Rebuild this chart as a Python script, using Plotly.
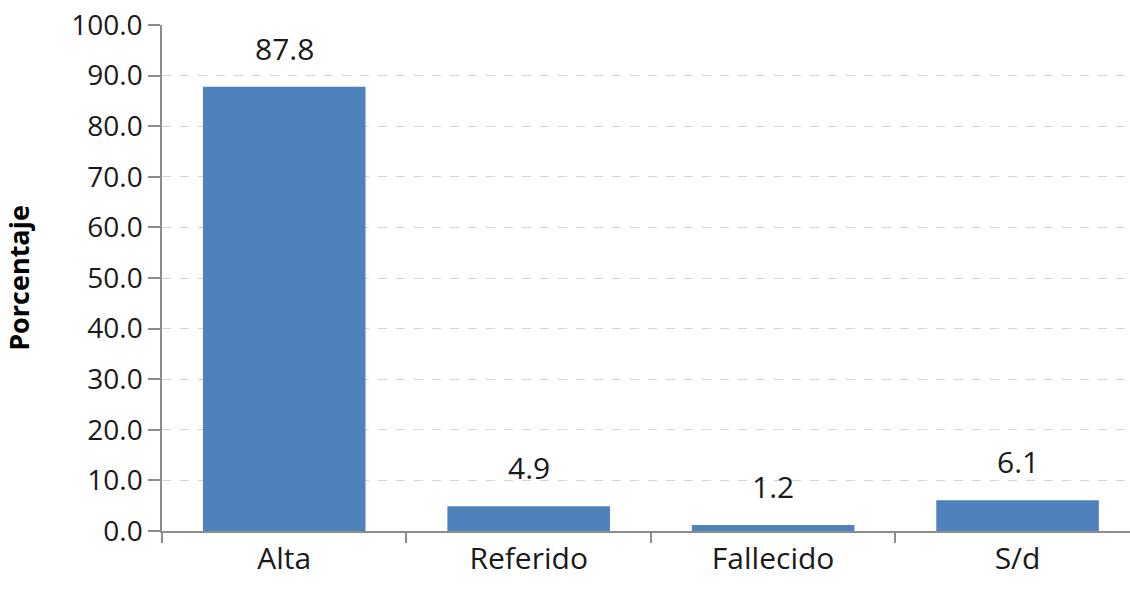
import plotly.graph_objects as go

categories = ["Alta", "Referido", "Fallecido", "S/d"]
values = [87.8, 4.9, 1.2, 6.1]
y_ticks = [0, 10, 20, 30, 40, 50, 60, 70, 80, 90, 100]

FONT = "Open Sans"
fig = go.Figure()
fig.add_trace(go.Bar(
    x=categories, y=values, width=0.665,
    marker=dict(color="#4F81BD", line=dict(width=0)),
    hoverinfo="skip",
))
for c, v in zip(categories, values):
    fig.add_annotation(x=c, y=v, text=f"{v:.1f}", showarrow=False,
                       yanchor="bottom", yshift=16,
                       font=dict(family=FONT, size=30, color="#1a1a1a"))

fig.update_layout(
    width=1130, height=590,
    margin=dict(l=162, r=0, t=25, b=59),
    paper_bgcolor="white", plot_bgcolor="white",
    showlegend=False,
    font=dict(family=FONT, size=30, color="#1a1a1a"),
)
fig.update_xaxes(
    type="category", range=[-0.5, 3.46],
    showline=True, linecolor="#8c8c8c", linewidth=1.5,
    ticks="outside", tickson="boundaries", ticklen=10, tickcolor="#8c8c8c", tickwidth=1.5,
    showgrid=False, tickfont=dict(family=FONT, size=30, color="#1a1a1a"),
)
fig.update_yaxes(
    range=[0, 100], tickvals=y_ticks, tickformat=".1f",
    showline=True, linecolor="#8c8c8c", linewidth=1.5,
    ticks="outside", ticklen=12, tickcolor="#8c8c8c", tickwidth=1.5,
    showgrid=True, gridcolor="#d4d4d4", griddash="dash", gridwidth=1,
    zeroline=False,
    tickfont=dict(family=FONT, size=28, color="#1a1a1a"),
    title=dict(text="<b>Porcentaje</b>", font=dict(family=FONT, size=27, color="#000"), standoff=39),
)
fig.write_html("out.html", config={"displayModeBar": False},
               post_script="document.body.style.margin='0px';")
